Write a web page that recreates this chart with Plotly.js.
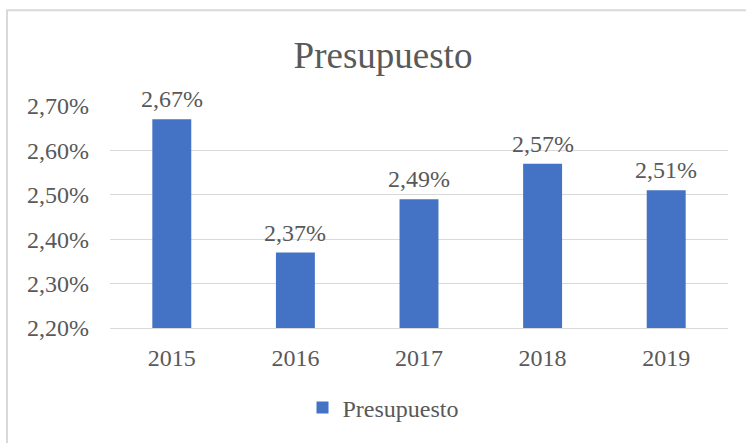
<!DOCTYPE html>
<html>
<head>
<meta charset="utf-8">
<script src="https://cdn.plot.ly/plotly-3.0.1.min.js"></script>
<style>
html,body{margin:0;padding:0;background:#fff;}
#chart{width:746px;height:443px;}
</style>
</head>
<body>
<div id="chart"></div>
<script>
var years = ['2015','2016','2017','2018','2019'];
var presupuesto = [0.0267, 0.0237, 0.0249, 0.0257, 0.0251];
var yTicks = [0.022, 0.023, 0.024, 0.025, 0.026, 0.027];

var W = 746, H = 443;
var mL = 110, mR = 18, mT = 106, mB = 112;
var pw = W - mL - mR, ph = H - mT - mB;
function px(x){ return (x - mL) / pw; }
function py(y){ return (H - mB - y) / ph; }

var font = 'Liberation Serif, Times New Roman, serif';
var gray = '#595959';

function fmtPct(v){ return (v * 100).toFixed(2).replace('.', ',') + '%'; }

var trace = {
  type: 'bar',
  x: years,
  y: presupuesto,
  name: 'Presupuesto',
  marker: {color: '#4472C4'},
  hoverinfo: 'skip'
};

var labels = years.map(function(yr, i){
  return {x: i, y: presupuesto[i], xref: 'x', yref: 'y', text: fmtPct(presupuesto[i]),
          showarrow: false, yanchor: 'bottom', xanchor: 'center', yshift: 5,
          font: {family: font, size: 24, color: gray}};
});

var layout = {
  width: W, height: H,
  separators: ',.',
  margin: {l: mL, r: mR, t: mT, b: mB},
  paper_bgcolor: '#fff',
  plot_bgcolor: '#fff',
  font: {family: font, color: gray, size: 24},
  title: {text: 'Presupuesto', font: {family: font, size: 37, color: gray},
          x: 383/W, xref: 'container', xanchor: 'center',
          y: 1 - 55/H, yref: 'container', yanchor: 'middle'},
  bargap: 0.685,
  xaxis: {type: 'category', categoryorder: 'array', categoryarray: years,
          range: [-0.5, years.length - 0.5], autorange: false,
          showgrid: false, zeroline: false, showline: true,
          linecolor: '#d9d9d9', linewidth: 1, ticks: '',
          tickfont: {family: font, size: 24, color: gray}, ticklabelstandoff: 8},
  yaxis: {range: [0.022, 0.027], tickvals: yTicks, tickformat: '.2%',
          showgrid: true, gridcolor: '#d9d9d9', gridwidth: 1, zeroline: false,
          showline: false, ticks: '', ticklabelstandoff: 20,
          tickfont: {family: font, size: 24, color: gray}},
  showlegend: true,
  legend: {orientation: 'h', x: px(383), xanchor: 'center', y: py(412), yanchor: 'middle',
           font: {family: font, size: 24, color: gray}, itemwidth: 30},
  annotations: labels,
  shapes: [{type: 'rect', xref: 'paper', yref: 'paper',
            x0: px(7), x1: px(760), y0: py(460), y1: py(9),
            line: {color: '#d9d9d9', width: 2}, fillcolor: 'rgba(0,0,0,0)', layer: 'below'}]
};

Plotly.newPlot('chart', [trace], layout, {staticPlot: true, displayModeBar: false});
</script>
</body>
</html>
